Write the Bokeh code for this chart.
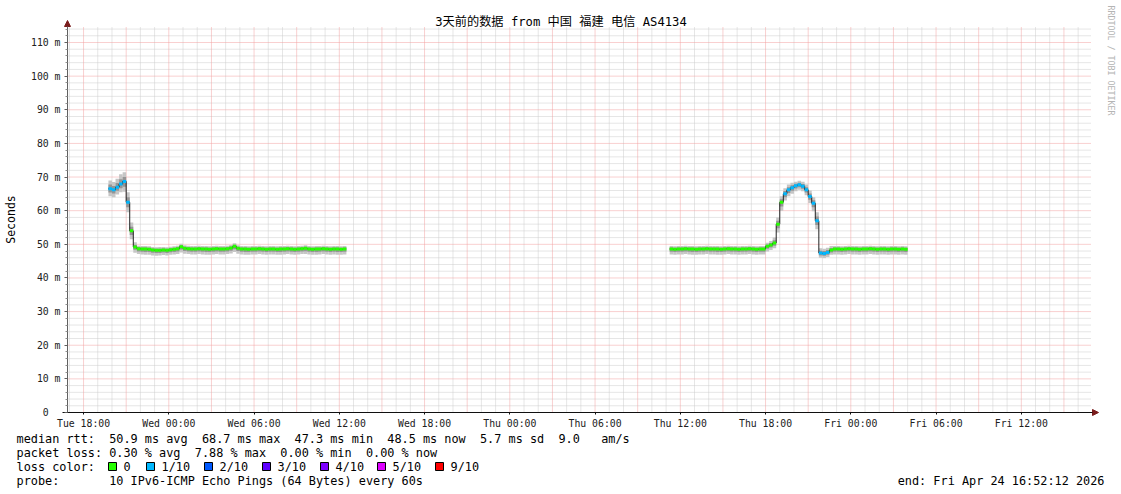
import math
from bokeh.plotting import figure
from bokeh.models import (Range1d, FixedTicker, Label, Arrow, NormalHead,
                          BoxAnnotation, LinearAxis)
from bokeh.embed import file_html
from bokeh.resources import INLINE

# ---------------- data ----------------
# time axis: hours since Tue 00:00; graph covers 3 days ending Fri 16:52:12
end_hours = 88 + 52 / 60 + 12 / 3600
span_hours = 72
step_h = 0.25  # 15-minute consolidated samples

seg1_start = 19.75   # Tue 19:45
med1 = [66.5, 66.2, 67.0, 67.9, 68.7, 62.5, 54.0, 49.2,
        48.7, 48.6, 48.6, 48.5, 48.3, 48.2, 48.2, 48.3, 48.2, 48.4, 48.5, 48.7,
        49.3, 48.8, 48.7, 48.6, 48.6, 48.7, 48.6, 48.6, 48.5, 48.6,
        48.7, 48.6, 48.6, 48.7, 48.9, 49.4, 48.8, 48.6, 48.6, 48.5,
        48.6, 48.6, 48.7, 48.6, 48.5, 48.6, 48.6, 48.5, 48.6, 48.6,
        48.7, 48.6, 48.5, 48.6, 48.7, 48.8, 48.6, 48.5, 48.6, 48.6,
        48.7, 48.6, 48.5, 48.6, 48.6, 48.5, 48.6]
loss1 = [1, 1, 1, 1, 1, 1, 0, 0,
         0, 0, 0, 0, 0, 0, 0, 0, 0, 0, 0, 0,
         0, 0, 0, 0, 0, 0, 0, 0, 0, 0,
         0, 0, 0, 0, 0, 0, 0, 0, 0, 0,
         0, 0, 0, 0, 0, 0, 0, 0, 0, 0,
         0, 0, 0, 0, 0, 0, 0, 0, 0, 0,
         0, 0, 0, 0, 0, 0, 0]
lo1 = [64.3, 64.0, 64.8, 65.5, 65.6, 59.5, 51.5, 47.5,
       47.1, 47.0, 46.9, 46.9, 46.7, 46.6, 46.7, 46.8, 46.7, 46.9, 47.0, 47.1,
       47.6, 47.2, 47.1, 47.0, 47.0, 47.1, 47.0, 46.9, 46.9, 47.0,
       47.1, 47.0, 47.0, 47.1, 47.3, 47.7, 47.2, 47.0, 46.9, 46.9,
       47.0, 47.0, 47.1, 47.0, 46.9, 47.0, 47.0, 46.9, 46.9, 47.0,
       47.1, 47.0, 46.9, 47.0, 47.1, 47.1, 47.0, 46.9, 46.9, 47.0,
       47.1, 47.0, 46.9, 47.0, 46.9, 46.9, 47.0]
hi1 = [69.0, 68.5, 69.5, 70.8, 71.4, 65.5, 56.5, 50.6,
       49.6, 49.5, 49.5, 49.4, 49.2, 49.1, 49.2, 49.2, 49.1, 49.3, 49.4, 49.6,
       50.2, 49.7, 49.6, 49.5, 49.5, 49.6, 49.5, 49.5, 49.4, 49.5,
       49.6, 49.5, 49.5, 49.6, 49.8, 50.3, 49.7, 49.5, 49.5, 49.4,
       49.5, 49.5, 49.6, 49.5, 49.4, 49.5, 49.5, 49.4, 49.5, 49.5,
       49.6, 49.5, 49.4, 49.5, 49.6, 49.7, 49.5, 49.4, 49.5, 49.5,
       49.6, 49.5, 49.4, 49.5, 49.5, 49.4, 49.5]

seg2_start = 59.25   # Thu 11:15
med2 = [48.6, 48.5, 48.6, 48.6, 48.7, 48.6, 48.6, 48.5, 48.6, 48.6,
        48.7, 48.6, 48.6, 48.6, 48.5, 48.6, 48.7, 48.6, 48.6, 48.5,
        48.6, 48.6, 48.7, 48.6, 48.5, 48.6, 48.6, 49.4, 49.8, 50.4,
        56.0, 62.5, 65.0, 66.2, 66.8, 67.4, 67.7, 67.3, 66.2, 64.2,
        62.2, 57.0, 47.4, 47.3, 47.6, 48.3, 48.6, 48.6, 48.5, 48.6,
        48.7, 48.6, 48.6, 48.5, 48.6, 48.6, 48.7, 48.6, 48.5, 48.6,
        48.6, 48.5, 48.6, 48.6, 48.5, 48.6, 48.5]
loss2 = [0, 0, 0, 0, 0, 0, 0, 0, 0, 0,
         0, 0, 0, 0, 0, 0, 0, 0, 0, 0,
         0, 0, 0, 0, 0, 0, 0, 0, 0, 0,
         0, 0, 1, 1, 1, 1, 1, 1, 1, 1,
         1, 1, 1, 1, 1, 0, 0, 0, 0, 0,
         0, 0, 0, 0, 0, 0, 0, 0, 0, 0,
         0, 0, 0, 0, 0, 0, 0]
lo2 = [47.0, 46.9, 47.0, 47.0, 47.1, 47.0, 46.9, 46.9, 47.0, 47.0,
       47.1, 47.0, 47.0, 46.9, 46.9, 47.0, 47.1, 47.0, 47.0, 46.9,
       47.0, 47.0, 47.1, 47.0, 46.9, 47.0, 47.0, 47.9, 48.3, 48.8,
       53.5, 60.0, 63.0, 64.3, 65.0, 65.8, 66.2, 65.8, 64.6, 62.3,
       59.8, 54.5, 46.0, 45.9, 46.2, 46.9, 47.0, 47.0, 46.9, 47.0,
       47.1, 47.0, 47.0, 46.9, 47.0, 47.0, 47.1, 47.0, 46.9, 47.0,
       47.0, 46.9, 47.0, 47.0, 46.9, 47.0, 46.9]
hi2 = [49.5, 49.4, 49.5, 49.5, 49.6, 49.5, 49.5, 49.4, 49.5, 49.5,
       49.6, 49.5, 49.5, 49.5, 49.4, 49.5, 49.6, 49.5, 49.5, 49.4,
       49.5, 49.5, 49.6, 49.5, 49.4, 49.5, 49.5, 50.5, 51.0, 52.0,
       58.0, 64.3, 66.7, 67.8, 68.3, 68.6, 68.9, 68.6, 67.8, 66.0,
       64.0, 59.5, 48.8, 48.7, 49.0, 49.5, 49.5, 49.5, 49.4, 49.5,
       49.6, 49.5, 49.5, 49.4, 49.5, 49.5, 49.6, 49.5, 49.4, 49.5,
       49.5, 49.4, 49.5, 49.5, 49.4, 49.5, 49.4]

loss_labels = ["0", "1/10", "2/10", "3/10", "4/10", "5/10", "9/10"]
loss_colors = ["#26ff00", "#00b8ff", "#0059ff", "#5e00ff", "#7e00ff", "#dd00ff", "#ff0000"]

x_tick_hours = [18, 24, 30, 36, 42, 48, 54, 60, 66, 72, 78, 84]
x_tick_labels = ["Tue 18:00", "Wed 00:00", "Wed 06:00", "Wed 12:00", "Wed 18:00",
                 "Thu 00:00", "Thu 06:00", "Thu 12:00", "Thu 18:00",
                 "Fri 00:00", "Fri 06:00", "Fri 12:00"]
y_ticks = [0, 10, 20, 30, 40, 50, 60, 70, 80, 90, 100, 110]
y_tick_labels = ["0\u2007\u2007", "10 m", "20 m", "30 m", "40 m", "50 m", "60 m",
                 "70 m", "80 m", "90 m", "100 m", "110 m"]

title_text = "3天前的数据 from 中国 福建 电信 AS4134"
stats_rtt = "median rtt:  50.9 ms avg  68.7 ms max  47.3 ms min  48.5 ms now  5.7 ms sd  9.0   am/s"
stats_loss = "packet loss: 0.30 % avg  7.88 % max  0.00 % min  0.00 % now"
probe_text = "probe:       10 IPv6-ICMP Echo Pings (64 Bytes) every 60s"
end_text = "end: Fri Apr 24 16:52:12 2026"

# ---------------- layout ----------------
W, H = 1121, 494
FL, FR, FT, FB = 67, 1090, 27, 412   # rrd plot area in canvas pixels
x0 = end_hours - span_hours
x1 = end_hours
y_top = 114.46
kx = (x1 - x0) / (FR - FL)
ky = y_top / (FB - FT)

def X(px):
    return x0 + (px - FL) * kx

def Y(py):
    return (FB - py) * ky

def nb(s):
    # keep runs of spaces (SVG would collapse them)
    return s.replace(" ", "\u00a0")

MONO = "DejaVu Sans Mono"

p = figure(width=W, height=H,
           x_range=Range1d(X(0), X(W)), y_range=Range1d(Y(H), Y(0)),
           x_axis_type=None, y_axis_type=None,
           output_backend="svg", toolbar_location=None,
           min_border_left=0, min_border_right=0, min_border_top=0, min_border_bottom=0)
p.outline_line_color = None
p.background_fill_color = "white"
p.border_fill_color = "white"

# ---------------- grid (limited to the rrd plot area) ----------------
x_major_grid = [h for h in range(18, 89, 3)]
x_minor_grid = [h for h in range(17, 89) if h % 3 != 0]
y_major_grid = [v for v in range(10, 115, 10)]
y_minor_grid = [v for v in range(2, 115, 2) if v % 10 != 0]

p.segment(x0=x_minor_grid, x1=x_minor_grid, y0=0, y1=y_top,
          line_color="#cccccc", line_width=1, line_dash="1 1")
p.segment(x0=x0, x1=x1, y0=y_minor_grid, y1=y_minor_grid,
          line_color="#cccccc", line_width=1, line_dash="1 1")
p.segment(x0=x_major_grid, x1=x_major_grid, y0=0, y1=y_top,
          line_color="#f2a0a0", line_width=1, line_dash="1 1")
p.segment(x0=x0, x1=x1, y0=y_major_grid, y1=y_major_grid,
          line_color="#f2a0a0", line_width=1, line_dash="1 1")

# ---------------- axes ----------------
xax = LinearAxis(fixed_location=0, bounds=(X(62), X(1092)),
                 ticker=FixedTicker(ticks=x_tick_hours, minor_ticks=[]),
                 major_label_overrides=dict(zip(x_tick_hours, x_tick_labels)))
yax = LinearAxis(fixed_location=x0, bounds=(0, y_top),
                 ticker=FixedTicker(ticks=y_ticks, minor_ticks=y_minor_grid),
                 major_label_overrides=dict(zip(y_ticks, y_tick_labels)))
for ax in (xax, yax):
    ax.major_label_text_font = MONO
    ax.major_label_text_font_size = "9.8px"
    ax.major_label_text_color = "#202020"
    ax.major_tick_in = 0
    ax.minor_tick_in = 0
xax.axis_line_color = "#101010"
xax.major_tick_line_color = "#101010"
xax.minor_tick_line_color = None
xax.major_tick_out = 2
xax.major_label_standoff = 3
yax.axis_line_color = "#606060"
yax.major_tick_line_color = "#606060"
yax.minor_tick_line_color = "#909090"
yax.major_tick_out = 3
yax.minor_tick_out = 2
yax.major_label_standoff = 4
p.add_layout(xax, "below")
p.add_layout(yax, "left")

# ---------------- data marks ----------------
def draw_segment(start, med, loss, lo, hi):
    t = [start + step_h * i for i in range(len(med))]
    t_end = [v + step_h for v in t]
    in_lo = [(a + m) / 2 for a, m in zip(lo, med)]
    in_hi = [(b + m) / 2 for b, m in zip(hi, med)]
    p.quad(left=t, right=t_end, bottom=lo, top=hi, fill_color="#c6c6c6", line_color=None)
    p.quad(left=t, right=t_end, bottom=in_lo, top=in_hi, fill_color="#959595", line_color=None)
    p.step(x=t, y=med, mode="after", line_color="#202020", line_width=1)
    cols = [loss_colors[k] for k in loss]
    p.segment(x0=t, x1=t_end, y0=med, y1=med, line_color=cols, line_width=3, line_cap="butt")

draw_segment(seg1_start, med1, loss1, lo1, hi1)
draw_segment(seg2_start, med2, loss2, lo2, hi2)

# axis arrow heads
head_col = "#7a1c1c"
p.add_layout(Arrow(x_start=X(1090), y_start=0, x_end=X(1098), y_end=0,
                   line_color="#101010", line_width=1,
                   end=NormalHead(size=6, fill_color=head_col, line_color=head_col)))
p.add_layout(Arrow(x_start=x0, y_start=Y(28), x_end=x0, y_end=Y(20),
                   line_color="#606060", line_width=1,
                   end=NormalHead(size=6, fill_color=head_col, line_color=head_col)))

# ---------------- texts ----------------
def lab(px, py, text, size="11.85px", align="left", color="#000000", angle=0, font=MONO):
    p.add_layout(Label(x=X(px), y=Y(py), text=nb(text), text_font=font, text_font_size=size,
                       text_align=align, text_baseline="middle", text_color=color,
                       angle=angle))

lab(560.5, 21, title_text, size="12.2px", align="center",
    font="DejaVu Sans Mono, Noto Sans CJK SC")
lab(10, 219, "Seconds", size="11.5px", align="center", angle=math.pi / 2)
lab(1110, 5, "RRDTOOL / TOBI OETIKER", size="8.3px", align="left",
    color="#b4b4b4", angle=-math.pi / 2)

lab(16, 438, stats_rtt)
lab(16, 452, stats_loss)
lab(16, 466, "loss color:")
box_left = [108, 146, 204, 262, 320, 377, 435]
for bx, txt, col in zip(box_left, loss_labels, loss_colors):
    p.add_layout(BoxAnnotation(left=X(bx), right=X(bx + 8), top=Y(462), bottom=Y(470),
                               fill_color=col, fill_alpha=1.0, line_color="black",
                               line_width=1, line_alpha=1.0))
    lab(bx + 15, 466, txt)
lab(16, 480, probe_text)
lab(1104, 480, end_text, align="right")

open("out.html", "w").write(file_html(p, INLINE))
